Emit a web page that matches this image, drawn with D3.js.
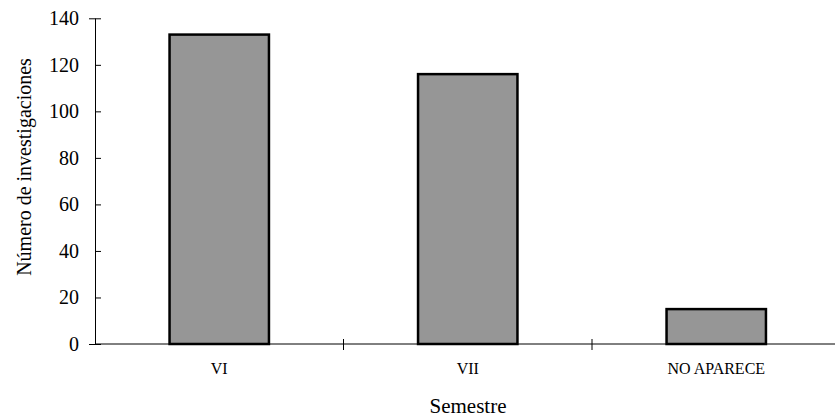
<!DOCTYPE html>
<html>
<head>
<meta charset="utf-8">
<script src="https://cdn.jsdelivr.net/npm/d3@7"></script>
<style>
body { margin:0; background:#fff; }
text { font-family: "Liberation Serif", "Times New Roman", serif; fill:#000; }
</style>
</head>
<body>
<div id="grafico"></div>
<script>
// dati
var semestri = ["VI", "VII", "NO APARECE"];
var investigaciones = [133, 116, 15];
var tick_y = [0, 20, 40, 60, 80, 100, 120, 140];

var larghezza = 835;
var altezza = 419;
var carattere = "Liberation Serif, Times New Roman, serif";

var svg = d3.select("#grafico")
  .append("svg")
  .attr("width", larghezza)
  .attr("height", altezza);

// scale
var scala_x = d3.scaleBand()
  .domain(semestri)
  .range([95, 840.5])
  .paddingInner(0.6)
  .paddingOuter(0.3);

var scala_y = d3.scaleLinear()
  .domain([0, 140])
  .range([344, 18.3]);

// barre
svg.selectAll("rect")
  .data(investigaciones)
  .enter().append("rect")
  .attr("x", function(d, i) { return scala_x(semestri[i]); })
  .attr("y", function(d) { return scala_y(d); })
  .attr("width", scala_x.bandwidth())
  .attr("height", function(d) { return scala_y(0) - scala_y(d); })
  .style("fill", "#969696")
  .style("stroke", "#000")
  .style("stroke-width", 2.5);

// asse y
var asse_y = svg.append("g")
  .attr("transform", "translate(95,0)")
  .call(d3.axisLeft(scala_y).tickValues(tick_y).tickSize(6).tickPadding(10));
asse_y.attr("font-family", carattere).attr("font-size", 20);
asse_y.selectAll(".tick line").attr("x2", 6);
asse_y.selectAll("text")
  .attr("font-family", carattere)
  .attr("font-size", 20);

// asse x (tacche ai bordi delle categorie)
var passo = scala_x.step();
var bordi = [1, 2].map(function(k) { return 95 + k * passo; });
var asse_x = svg.append("g");
asse_x.append("line")
  .attr("x1", 95).attr("x2", larghezza)
  .attr("y1", scala_y(0)).attr("y2", scala_y(0))
  .style("stroke", "#000");
asse_x.selectAll(".tacca")
  .data(bordi)
  .enter().append("line")
  .attr("class", "tacca")
  .attr("x1", function(d) { return d; }).attr("x2", function(d) { return d; })
  .attr("y1", scala_y(0) - 5).attr("y2", scala_y(0) + 6)
  .style("stroke", "#000");
asse_x.selectAll(".etichetta")
  .data(semestri)
  .enter().append("text")
  .attr("class", "etichetta")
  .attr("x", function(d) { return scala_x(d) + scala_x.bandwidth() / 2; })
  .attr("y", 374)
  .attr("text-anchor", "middle")
  .style("font-size", "16px")
  .text(function(d) { return d; });

// titoli assi
svg.append("text")
  .attr("x", 468)
  .attr("y", 413)
  .attr("text-anchor", "middle")
  .style("font-size", "21px")
  .text("Semestre");

svg.append("text")
  .attr("transform", "translate(31,167) rotate(-90)")
  .attr("text-anchor", "middle")
  .style("font-size", "20px")
  .text("Número de investigaciones");
</script>
</body>
</html>
